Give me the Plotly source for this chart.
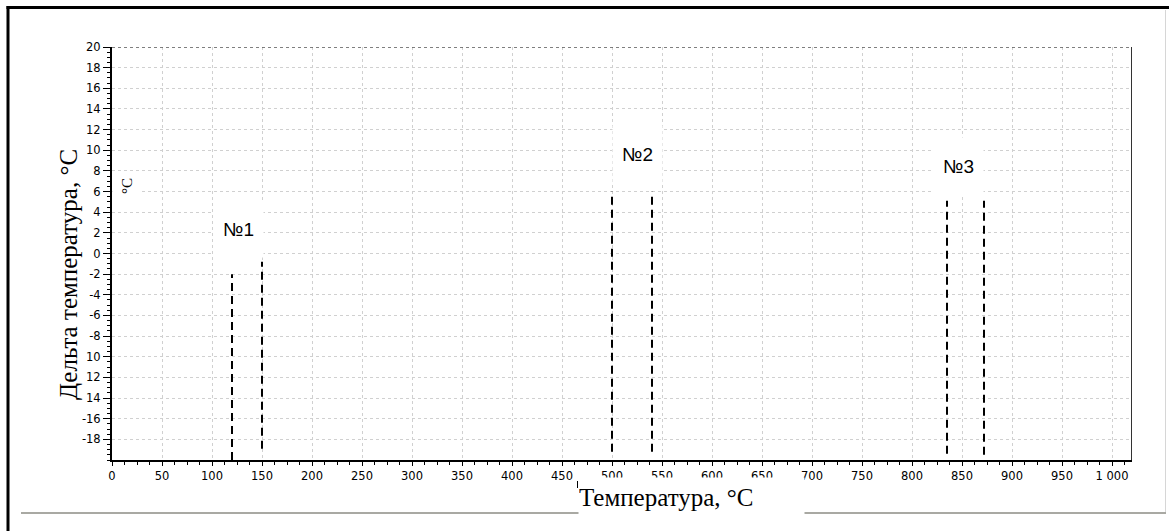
import plotly.graph_objects as go

# ---- data ----
line_x = [120, 150, 500, 540, 835, 872]
line_y_bottom = [-20.0, -18.9, -19.2, -19.2, -19.4, -19.5]
line_y_top = [-2.0, -0.8, 6.0, 6.0, 5.1, 5.1]

peak_labels = ["№1", "№2", "№3"]
peak_label_x = [126, 525, 846]
peak_label_y = [2.4, 9.6, 8.5]

x_tick_vals = list(range(0, 1001, 50))
x_tick_text = [str(v) if v < 1000 else "1 000" for v in x_tick_vals]
y_tick_vals = list(range(-18, 21, 2))
y_tick_text = ["10" if v == -10 else "12" if v == -12 else "14" if v == -14 else str(v)
               for v in y_tick_vals]

x_title = "Температура, °C"
y_title = "Дельта температура, °C"
unit_label = "°C"

W, H = 1169, 531
ML, MR, MT, MB = 112, 37, 47, 71
PW, PH = W - ML - MR, H - MT - MB


def px(xpix):
    return (xpix - ML) / PW


def py(ypix):
    return (H - MB - ypix) / PH


xs, ys = [], []
for x, yb, yt in zip(line_x, line_y_bottom, line_y_top):
    xs += [x, x, None]
    ys += [yb, yt, None]

fig = go.Figure()
fig.add_trace(go.Scatter(x=xs, y=ys, mode="lines",
                         line=dict(color="black", width=2, dash="8px,5px"),
                         hoverinfo="skip", showlegend=False))

axis_font = dict(family="DejaVu Sans", size=11.5, color="black")

fig.update_xaxes(range=[0, 1020], tickvals=x_tick_vals, ticktext=x_tick_text,
                 showline=True, linecolor="black", linewidth=2,
                 ticks="outside", ticklen=4, tickcolor="black", tickwidth=1,
                 tickfont=axis_font,
                 showgrid=True, gridcolor="#d0d0d0", griddash="dot", gridwidth=1,
                 zeroline=False,
                 minor=dict(dtick=12.5, ticks="outside", ticklen=3, tickcolor="black",
                            showgrid=False))
fig.update_yaxes(range=[-20, 20], tickvals=y_tick_vals, ticktext=y_tick_text,
                 showline=True, linecolor="black", linewidth=2,
                 ticks="outside", ticklen=7, tickcolor="black", tickwidth=1,
                 tickfont=axis_font,
                 showgrid=True, gridcolor="#d0d0d0", griddash="dot", gridwidth=1,
                 zeroline=False,
                 minor=dict(dtick=0.5, ticks="outside", ticklen=3, tickcolor="black",
                            showgrid=False))

shapes = [
    # plot top (dotted) and right edge
    dict(type="line", xref="x", yref="y", x0=0, x1=1020, y0=20, y1=20,
         line=dict(color="#555555", width=1.5, dash="dot")),
    dict(type="line", xref="x", yref="y", x0=1020, x1=1020, y0=-20, y1=20,
         line=dict(color="#333333", width=2)),
    # outer frame
    dict(type="line", xref="paper", yref="paper", x0=px(8), x1=px(8), y0=py(6), y1=py(531),
         line=dict(color="black", width=3)),
    dict(type="line", xref="paper", yref="paper", x0=px(6.5), x1=px(1169), y0=py(7.5), y1=py(7.5),
         line=dict(color="black", width=3)),
    dict(type="line", xref="paper", yref="paper", x0=px(1165.5), x1=px(1165.5), y0=py(10), y1=py(513),
         line=dict(color="#d6d6d6", width=1)),
    dict(type="line", xref="paper", yref="paper", x0=px(21), x1=px(1166), y0=py(513), y1=py(513),
         line=dict(color="#a9a9a3", width=2)),
    dict(type="line", xref="paper", yref="paper", x0=px(577.5), x1=px(577.5), y0=py(481), y1=py(488),
         line=dict(color="black", width=1)),
]

annotations = []
for t, x, y in zip(peak_labels, peak_label_x, peak_label_y):
    annotations.append(dict(x=x, y=y, xref="x", yref="y", text=t, showarrow=False,
                            xanchor="center", yanchor="middle",
                            font=dict(family="Liberation Sans", size=19, color="black"),
                            bgcolor="white", width=49, height=56, borderpad=0))

annotations.append(dict(x=14.5, y=6.5, xref="x", yref="y", text=unit_label, showarrow=False,
                        textangle=-90, xanchor="center", yanchor="middle",
                        font=dict(family="Liberation Serif", size=15, color="black"),
                        bgcolor="white", width=22, height=27, borderpad=0))

annotations.append(dict(x=px(68), y=py(275), xref="paper", yref="paper", text=y_title,
                        showarrow=False, textangle=-90, xanchor="center", yanchor="middle",
                        font=dict(family="Liberation Serif", size=25, color="black")))

annotations.append(dict(x=px(691.5), y=py(497), xref="paper", yref="paper", text=x_title,
                        showarrow=False, align="left", valign="middle",
                        xanchor="center", yanchor="middle",
                        font=dict(family="Liberation Serif", size=25, color="black"),
                        bgcolor="white", width=225, height=38, borderpad=0))

fig.update_layout(width=W, height=H, autosize=False,
                  margin=dict(l=ML, r=MR, t=MT, b=MB),
                  paper_bgcolor="white", plot_bgcolor="white",
                  showlegend=False, shapes=shapes, annotations=annotations)

fig.write_html("out.html")
